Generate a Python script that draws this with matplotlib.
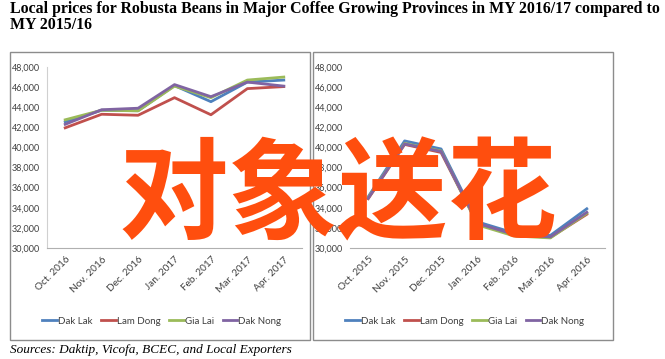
import matplotlib
matplotlib.use("Agg")
import matplotlib.pyplot as plt
from matplotlib.patches import Rectangle

# MY 2016/17
months_new = ["Oct. 2016", "Nov. 2016", "Dec. 2016", "Jan. 2017", "Feb. 2017", "Mar. 2017", "Apr. 2017"]
dak_lak_new = [42550, 43700, 43650, 46150, 44550, 46500, 46700]
lam_dong_new = [41950, 43300, 43200, 44950, 43250, 45850, 46050]
gia_lai_new = [42750, 43700, 43640, 46100, 44950, 46700, 47000]
dak_nong_new = [42300, 43750, 43900, 46250, 45050, 46500, 46100]

# MY 2015/16
months_old = ["Oct. 2015", "Nov. 2015", "Dec. 2015", "Jan. 2016", "Feb. 2016", "Mar. 2016", "Apr. 2016"]
dak_lak_old = [35100, 40650, 39850, 32600, 31500, 31250, 33900]
lam_dong_old = [34900, 40300, 39500, 32400, 31300, 31050, 33350]
gia_lai_old = [35000, 40400, 39650, 32300, 31200, 31000, 33450]
dak_nong_old = [34950, 40350, 39600, 32450, 31350, 31100, 33550]

provinces = ["Dak Lak", "Lam Dong", "Gia Lai", "Dak Nong"]
colors = ["#4F81BD", "#C0504D", "#9BBB59", "#8064A2"]
yticks = list(range(30000, 48001, 2000))

W, H = 665, 359
fig = plt.figure(figsize=(W / 100, H / 100), dpi=100)
narrow = ["Lato", "DejaVu Sans"]


def fx(px):
    return px / W


def fy(py):
    return 1 - py / H


def panel(left_px, months, series, left_spine):
    # outer chart box
    fig.patches.append(Rectangle((fx(left_px), fy(340)), fx(300), 288 / H,
                                 transform=fig.transFigure, fill=False,
                                 edgecolor="#8c8c8c", linewidth=1.0))
    ax = fig.add_axes([fx(left_px + 37), fy(248), fx(255), 181 / H])
    x = list(range(len(months)))
    for vals, c, name in zip(series, colors, provinces):
        ax.plot(x, vals, color=c, linewidth=2.0, label=name)
    ax.set_xlim(-0.5, 6.5)
    ax.set_ylim(30000, 48000)
    ax.set_yticks(yticks)
    ax.set_yticklabels([f"{v:,}" for v in yticks], fontsize=6.5, family=narrow, color="#404040")
    ax.set_xticks(x)
    ax.set_xticklabels(months, rotation=45, ha="right", rotation_mode="anchor",
                       fontsize=7.2, family=narrow, color="#404040")
    ax.tick_params(axis="both", length=0, pad=5)
    for s in ["top", "right"]:
        ax.spines[s].set_visible(False)
    ax.spines["left"].set_visible(left_spine)
    ax.spines["left"].set_color("#d0d0d0")
    ax.spines["bottom"].set_color("#b0b0b0")
    leg = ax.legend(loc="center", bbox_to_anchor=(0.45, -0.405), ncol=4, frameon=False,
                    handlelength=1.5, handletextpad=0.1, columnspacing=0.9,
                    prop={"family": narrow, "size": 7})
    for t in leg.get_texts():
        t.set_color("#404040")
    return ax


panel(10, months_new, [dak_lak_new, lam_dong_new, gia_lai_new, dak_nong_new], True)
panel(313, months_old, [dak_lak_old, lam_dong_old, gia_lai_old, dak_nong_old], False)

fig.text(fx(10), fy(9), "Local prices for Robusta Beans in Major Coffee Growing Provinces in MY 2016/17 compared to",
         family="Liberation Serif", fontweight="bold", fontsize=11.4, va="center", ha="left")
fig.text(fx(10), fy(25), "MY 2015/16",
         family="Liberation Serif", fontweight="bold", fontsize=11.4, va="center", ha="left")
fig.text(fx(10), fy(350), "Sources: Daktip, Vicofa, BCEC, and Local Exporters",
         family="Liberation Serif", style="italic", fontsize=9.5, va="center", ha="left")

# watermark
fig.text(fx(338), fy(199), "对象送花", family=["Noto Sans CJK SC", "DejaVu Sans"],
         fontweight="bold", fontsize=79, color="#FF4E0E", ha="center", va="center")

fig.savefig("out.png", dpi=100)
